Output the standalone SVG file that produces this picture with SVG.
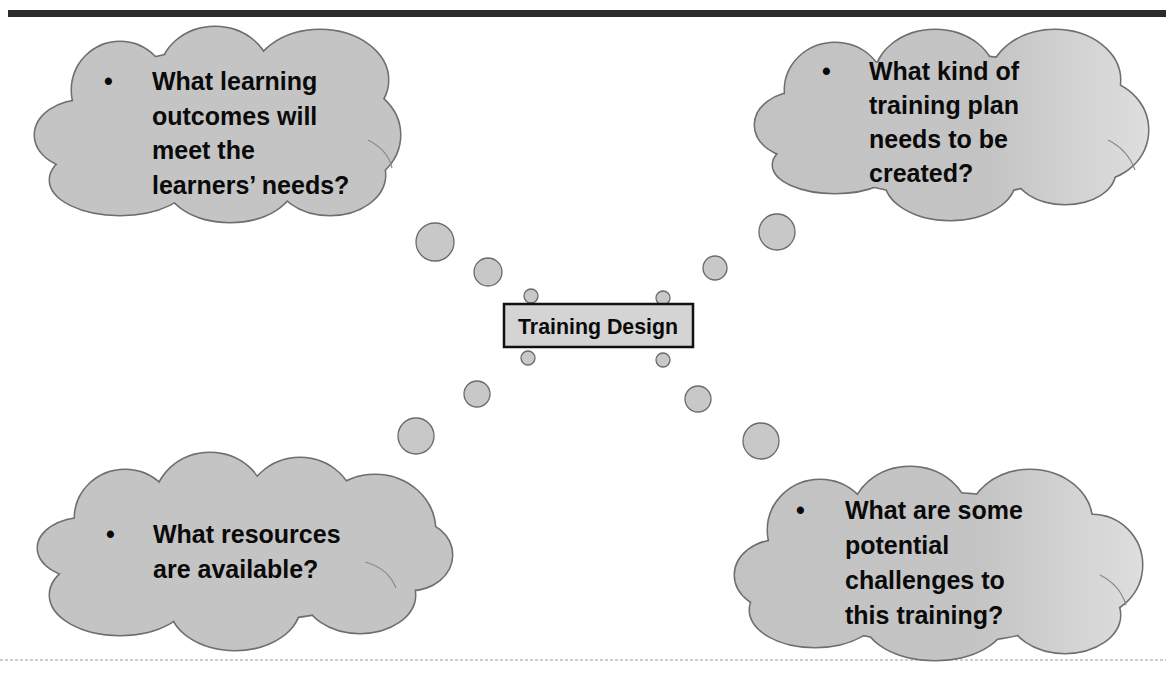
<svg xmlns="http://www.w3.org/2000/svg" xmlns:xlink="http://www.w3.org/1999/xlink" width="1166" height="676" viewBox="0 0 1166 676">
  <style>
    .edge { fill: #c4c4c4; stroke: #6e6e6e; stroke-width: 3; }
    .body { fill: #c4c4c4; stroke: none; }
    .edge2 { fill: url(#fade2); stroke: #6e6e6e; stroke-width: 3; }
    .body2 { fill: url(#fade2); stroke: none; }
    .edge4 { fill: url(#fade4); stroke: #6e6e6e; stroke-width: 3; }
    .body4 { fill: url(#fade4); stroke: none; }
    .fold { fill: none; stroke: #8a8a8a; stroke-width: 1.2; }
    .q { font-family: "Liberation Sans", Arial, sans-serif; font-weight: bold; font-size: 25px; fill: #0a0a0a; }
    .bubble { fill: #c8c8c8; stroke: #6a6a6a; stroke-width: 1.3; }
    .title { font-family: "Liberation Sans", Arial, sans-serif; font-weight: bold; font-size: 21.5px; fill: #0a0a0a; }
  </style>
  <defs>
    <linearGradient id="fade2" gradientUnits="userSpaceOnUse" x1="755" y1="0" x2="1148" y2="0">
      <stop offset="0" stop-color="#c3c3c3"/>
      <stop offset="0.6" stop-color="#c4c4c4"/>
      <stop offset="1" stop-color="#dedede"/>
    </linearGradient>
    <linearGradient id="fade4" gradientUnits="userSpaceOnUse" x1="735" y1="0" x2="1142" y2="0">
      <stop offset="0" stop-color="#c3c3c3"/>
      <stop offset="0.6" stop-color="#c4c4c4"/>
      <stop offset="1" stop-color="#dedede"/>
    </linearGradient>
    <!-- cloud outlines are built from overlapping lobes: stroked copy below, unstroked copy on top -->
    <g id="lobes1">
      <ellipse cx="120" cy="90" rx="48" ry="48"/>
      <ellipse cx="215" cy="75" rx="55" ry="48"/>
      <ellipse cx="320" cy="80" rx="68" ry="50"/>
      <ellipse cx="345" cy="135" rx="55" ry="50"/>
      <ellipse cx="330" cy="175" rx="55" ry="40"/>
      <ellipse cx="230" cy="180" rx="65" ry="42"/>
      <ellipse cx="120" cy="180" rx="70" ry="35"/>
      <ellipse cx="85" cy="135" rx="50" ry="35"/>
      <ellipse cx="220" cy="125" rx="150" ry="75"/>
    </g>
    <g id="lobes2">
      <ellipse cx="835" cy="90" rx="50" ry="47"/>
      <ellipse cx="935" cy="78" rx="60" ry="48"/>
      <ellipse cx="1055" cy="80" rx="65" ry="50"/>
      <ellipse cx="1095" cy="130" rx="53" ry="50"/>
      <ellipse cx="1065" cy="172" rx="50" ry="32"/>
      <ellipse cx="950" cy="180" rx="65" ry="40"/>
      <ellipse cx="835" cy="165" rx="62" ry="28"/>
      <ellipse cx="800" cy="125" rx="45" ry="33"/>
      <ellipse cx="950" cy="125" rx="160" ry="70"/>
    </g>
    <g id="lobes3">
      <ellipse cx="125" cy="518" rx="50" ry="48"/>
      <ellipse cx="210" cy="503" rx="55" ry="50"/>
      <ellipse cx="300" cy="510" rx="55" ry="52"/>
      <ellipse cx="375" cy="530" rx="60" ry="55"/>
      <ellipse cx="410" cy="555" rx="42" ry="35"/>
      <ellipse cx="360" cy="595" rx="55" ry="38"/>
      <ellipse cx="235" cy="605" rx="65" ry="45"/>
      <ellipse cx="120" cy="595" rx="70" ry="40"/>
      <ellipse cx="85" cy="548" rx="47" ry="30"/>
      <ellipse cx="245" cy="550" rx="170" ry="70"/>
    </g>
    <g id="lobes4">
      <ellipse cx="820" cy="530" rx="52" ry="50"/>
      <ellipse cx="910" cy="517" rx="58" ry="50"/>
      <ellipse cx="1030" cy="522" rx="62" ry="52"/>
      <ellipse cx="1092" cy="565" rx="50" ry="50"/>
      <ellipse cx="1065" cy="615" rx="55" ry="38"/>
      <ellipse cx="935" cy="620" rx="70" ry="40"/>
      <ellipse cx="815" cy="610" rx="65" ry="37"/>
      <ellipse cx="780" cy="575" rx="45" ry="35"/>
      <ellipse cx="940" cy="568" rx="170" ry="75"/>
    </g>
  </defs>

  <rect width="1166" height="676" fill="#ffffff"/>

  <!-- page rules -->
  <rect x="8" y="10" width="1158" height="7" fill="#2b2b2b"/>
  <line x1="0" y1="660" x2="1166" y2="660" stroke="#9a9a9a" stroke-width="1" stroke-dasharray="3 2"/>

  <!-- thought-bubble chains linking the centre to each cloud -->
  <g id="connectors">
    <circle class="bubble" cx="435" cy="242" r="19"/>
    <circle class="bubble" cx="488" cy="272" r="14"/>
    <circle class="bubble" cx="531" cy="296" r="7"/>
    <circle class="bubble" cx="777" cy="232" r="18"/>
    <circle class="bubble" cx="715" cy="268" r="12"/>
    <circle class="bubble" cx="663" cy="298" r="7"/>
    <circle class="bubble" cx="528" cy="358" r="7"/>
    <circle class="bubble" cx="477" cy="394" r="13"/>
    <circle class="bubble" cx="416" cy="436" r="18"/>
    <circle class="bubble" cx="663" cy="360" r="7"/>
    <circle class="bubble" cx="698" cy="399" r="13"/>
    <circle class="bubble" cx="761" cy="441" r="18"/>
  </g>

  <g id="cloud-outcomes">
    <use xlink:href="#lobes1" class="edge"/>
    <use xlink:href="#lobes1" class="body"/>
    <path class="fold" d="M368,140 Q388,150 392,168"/>
    <text class="q" x="104" y="90">•</text>
    <text class="q" x="152" y="90">What learning</text>
    <text class="q" x="152" y="125">outcomes will</text>
    <text class="q" x="152" y="159">meet the</text>
    <text class="q" x="152" y="194">learners’ needs?</text>
  </g>

  <g id="cloud-plan">
    <use xlink:href="#lobes2" class="edge2"/>
    <use xlink:href="#lobes2" class="body2"/>
    <path class="fold" d="M1108,140 Q1128,150 1135,170"/>
    <text class="q" x="822" y="80">•</text>
    <text class="q" x="869" y="80">What kind of</text>
    <text class="q" x="869" y="114">training plan</text>
    <text class="q" x="869" y="148">needs to be</text>
    <text class="q" x="869" y="182">created?</text>
  </g>

  <g id="cloud-resources">
    <use xlink:href="#lobes3" class="edge"/>
    <use xlink:href="#lobes3" class="body"/>
    <path class="fold" d="M365,562 Q388,568 396,588"/>
    <text class="q" x="106" y="543">•</text>
    <text class="q" x="153" y="543">What resources</text>
    <text class="q" x="153" y="578">are available?</text>
  </g>

  <g id="cloud-challenges">
    <use xlink:href="#lobes4" class="edge4"/>
    <use xlink:href="#lobes4" class="body4"/>
    <path class="fold" d="M1100,575 Q1120,585 1126,605"/>
    <text class="q" x="796" y="519">•</text>
    <text class="q" x="845" y="519">What are some</text>
    <text class="q" x="845" y="554">potential</text>
    <text class="q" x="845" y="589">challenges to</text>
    <text class="q" x="845" y="624">this training?</text>
  </g>

  <g id="training-design">
    <rect x="504" y="304" width="189" height="43" fill="#d4d4d4" stroke="#111111" stroke-width="2.5"/>
    <text class="title" x="518" y="334" textLength="160" lengthAdjust="spacingAndGlyphs">Training Design</text>
  </g>
</svg>
